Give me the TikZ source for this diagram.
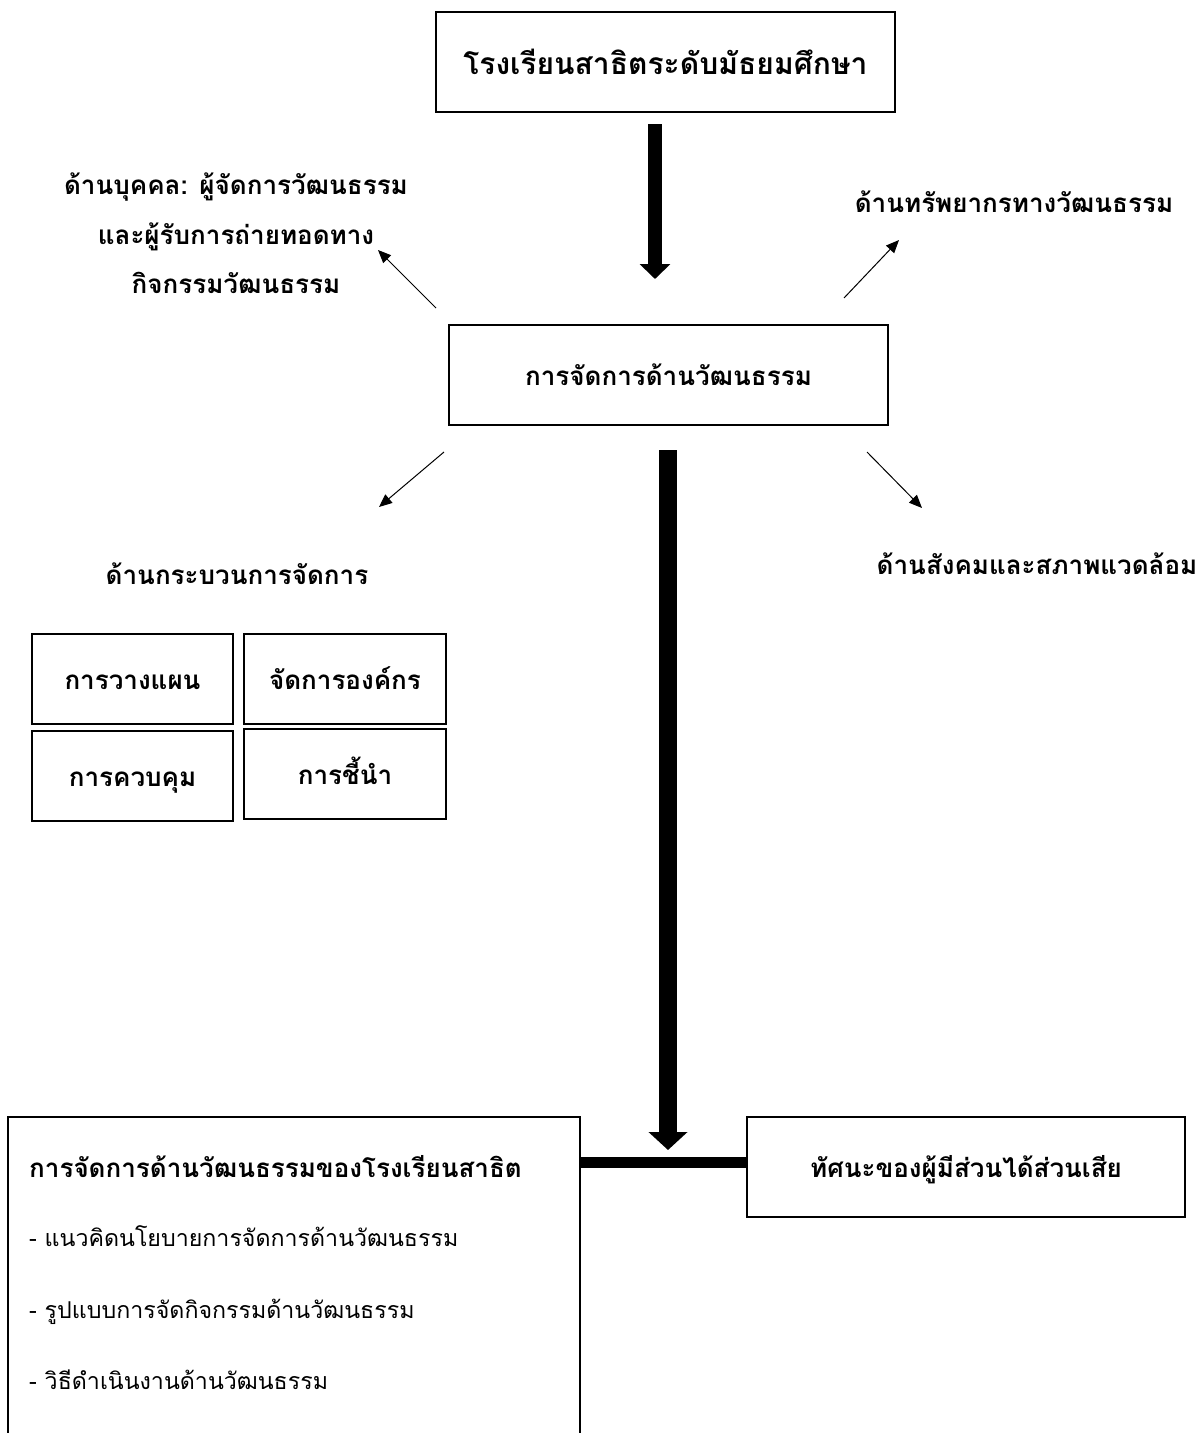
\documentclass[tikz,border=0pt]{standalone}
\usepackage{fontspec}
\setmainfont[Script=Thai]{Loma}
\usetikzlibrary{arrows.meta}
\begin{document}
\begin{tikzpicture}[x=1pt,y=-1pt,
  boxstyle/.style={draw=black,line width=1.2pt,fill=white,inner sep=0pt,align=center,text height=24pt,text depth=4pt},
  bfont/.style={font=\fontsize{26}{30}\selectfont\bfseries},
  tfont/.style={font=\fontsize{30}{34}\selectfont\bfseries},
  rfont/.style={font=\fontsize{23.2}{27}\selectfont},
  lbl/.style={inner sep=0pt,anchor=base,bfont},
  thin/.style={line width=1pt,-{Triangle[length=13pt,width=11pt]}},
  thickA/.style={line width=14pt,-{Triangle[length=15pt,width=30pt]}},
  thickB/.style={line width=18pt,-{Triangle[length=18pt,width=38pt]}},
  bar/.style={line width=11pt}]
\useasboundingbox[fill=white] (0,0) rectangle (1203,1433);

% top box
\node[boxstyle,tfont,minimum width=459pt,minimum height=100pt,text height=28pt] (top) at (665.5,62) {โรงเรียนสาธิตระดับมัธยมศึกษา};
% middle box
\node[boxstyle,bfont,minimum width=439pt,minimum height=100pt] (mid) at (668.5,375) {การจัดการด้านวัฒนธรรม};

% top thick arrow
\coordinate (a1s) at (655,124);
\coordinate (a1e) at (655,279);
\draw[thickA] (a1s) -- (a1e);

% labels
\node[lbl] (pl1) at (236,194) {ด้านบุคคล: ผู้จัดการวัฒนธรรม};
\node[lbl] (pl2) at (236,244) {และผู้รับการถ่ายทอดทาง};
\node[lbl] (pl3) at (236,293) {กิจกรรมวัฒนธรรม};
\node[lbl] (res) at (1014,212) {ด้านทรัพยากรทางวัฒนธรรม};
\node[lbl] (proc) at (237,584) {ด้านกระบวนการจัดการ};
\node[lbl] (soc) at (1037,574) {ด้านสังคมและสภาพแวดล้อม};

% thin arrows
\coordinate (t1s) at (436,308); \coordinate (t1e) at (378,250);
\coordinate (t2s) at (844,298); \coordinate (t2e) at (899,240);
\coordinate (t3s) at (444,452); \coordinate (t3e) at (379,507);
\coordinate (t4s) at (867,452); \coordinate (t4e) at (922,508);
\draw[thin] (t1s) -- (t1e);
\draw[thin] (t2s) -- (t2e);
\draw[thin] (t3s) -- (t3e);
\draw[thin] (t4s) -- (t4e);

% four process boxes
\node[boxstyle,bfont,minimum width=201pt,minimum height=90pt] (plan) at (132.5,679) {การวางแผน};
\node[boxstyle,bfont,minimum width=202pt,minimum height=90pt] (org) at (345,679) {จัดการองค์กร};
\node[boxstyle,bfont,minimum width=201pt,minimum height=90pt] (ctrl) at (132.5,776) {การควบคุม};
\node[boxstyle,bfont,minimum width=202pt,minimum height=90pt] (lead) at (345,774) {การชี้นำ};

% big vertical arrow
\coordinate (vs) at (668,450);
\coordinate (ve) at (668,1150);
\draw[thickB] (vs) -- (ve);

% bottom-left open box
\coordinate (bl1) at (8,1440);
\coordinate (bl2) at (8,1117);
\coordinate (bl3) at (580,1117);
\coordinate (bl4) at (580,1440);
\draw[line width=1.2pt] (bl1) -- (bl2) -- (bl3) -- (bl4);
\node[inner sep=0pt,anchor=base west,bfont] (sch) at (29,1177) {การจัดการด้านวัฒนธรรมของโรงเรียนสาธิต};
\node[inner sep=0pt,anchor=base west,rfont] (i1) at (29,1246) {- แนวคิดนโยบายการจัดการด้านวัฒนธรรม};
\node[inner sep=0pt,anchor=base west,rfont] (i2) at (29,1318) {- รูปแบบการจัดกิจกรรมด้านวัฒนธรรม};
\node[inner sep=0pt,anchor=base west,rfont] (i3) at (29,1389) {- วิธีดำเนินงานด้านวัฒนธรรม};

% right box
\node[boxstyle,bfont,minimum width=438pt,minimum height=100pt] (view) at (966,1167) {ทัศนะของผู้มีส่วนได้ส่วนเสีย};

% horizontal bar
\coordinate (hb1) at (580,1162);
\coordinate (hb2) at (747,1162);
\draw[bar] (hb1) -- (hb2);
\end{tikzpicture}
\end{document}
